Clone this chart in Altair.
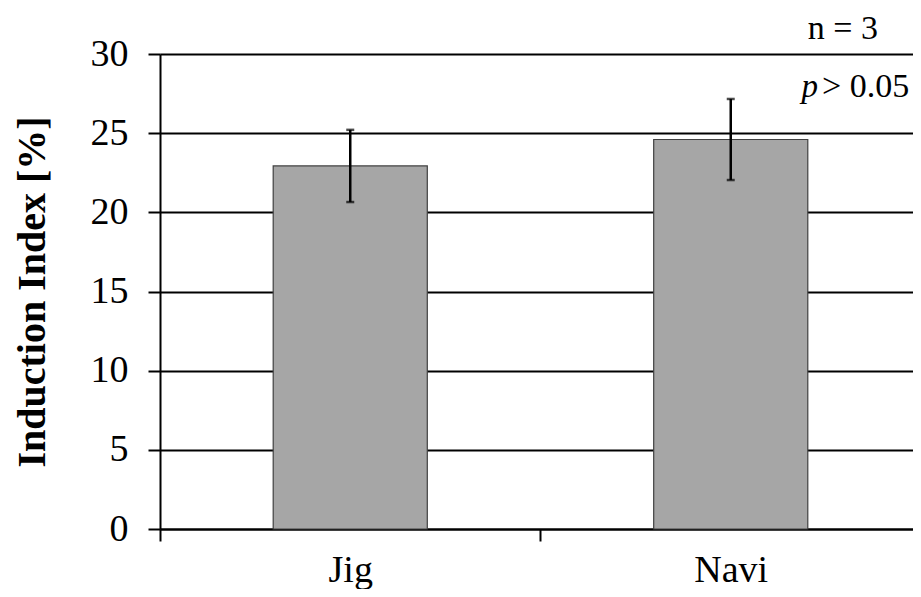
import altair as alt
import pandas as pd

categories = ["Jig", "Navi"]
means = [22.93, 24.6]
errors = [2.28, 2.56]
y_ticks = [0, 5, 10, 15, 20, 25, 30]
n_label = "n = 3"
p_italic = "p"
p_rest = "> 0.05"

FONT = "Liberation Serif"
BAR_HALF = 0.2025
X_END = 1.979  # the reference's plot area is cut off at the right edge

idx = list(range(len(categories)))
df = pd.DataFrame({
    "cat": categories,
    "mean": means,
    "err": errors,
    "center": [i + 0.5 for i in idx],
})
df["x0"] = df["center"] - BAR_HALF
df["x1"] = df["center"] + BAR_HALF
df["lo"] = df["mean"] - df["err"]
df["hi"] = df["mean"] + df["err"]

label_expr = " : ".join(
    [f"datum.value == {i + 0.5} ? '{c}'" for i, c in zip(idx, categories)]
) + " : ''"
x_vals = sorted(set([float(i) for i in range(len(categories))] + [i + 0.5 for i in idx]))

xscale = alt.Scale(domain=[0, X_END], nice=False, zero=False)
yscale = alt.Scale(domain=[0, 30], nice=False)

x_axis = alt.Axis(
    values=x_vals,
    labelExpr=label_expr,
    title=None,
    grid=False,
    tickSize=12,
    tickWidth=2,
    tickColor={"condition": {"test": "datum.value % 1 == 0", "value": "black"}, "value": "transparent"},
    domainColor="black",
    domainWidth=2,
    labelFont=FONT,
    labelFontSize=38,
    labelColor="black",
    labelPadding=10,
    labelFlush=False,
)
y_axis = alt.Axis(
    values=y_ticks,
    title="Induction Index [%]",
    titleFont=FONT,
    titleFontSize=40,
    titleFontWeight="bold",
    titleColor="black",
    titlePadding=38,
    grid=True,
    gridColor="black",
    gridWidth=1.8,
    gridOpacity=1,
    tickSize=12,
    tickWidth=2,
    tickColor="black",
    domainColor="black",
    domainWidth=2,
    labelFont=FONT,
    labelFontSize=38,
    labelColor="black",
    labelPadding=20,
)

base = alt.Chart(df)

bars = base.mark_bar(fill="#a6a6a6", stroke="#404040", strokeWidth=1.2).encode(
    x=alt.X("x0:Q", scale=xscale, axis=x_axis),
    x2="x1:Q",
    y=alt.Y("mean:Q", scale=yscale, axis=y_axis),
    y2=alt.datum(0),
)

err_rule = base.mark_rule(color="black", strokeWidth=2.5).encode(
    x=alt.X("center:Q", scale=xscale),
    y=alt.Y("lo:Q", scale=yscale),
    y2="hi:Q",
)
cap_lo = base.mark_tick(color="black", thickness=2.5, size=8, orient="horizontal").encode(
    x=alt.X("center:Q", scale=xscale),
    y=alt.Y("lo:Q", scale=yscale),
)
cap_hi = base.mark_tick(color="black", thickness=2.5, size=8, orient="horizontal").encode(
    x=alt.X("center:Q", scale=xscale),
    y=alt.Y("hi:Q", scale=yscale),
)

ann = pd.DataFrame({
    "x": [1.887, 1.729, 1.740],
    "y": [30.95, 27.28, 27.28],
    "t": [n_label, p_italic, p_rest],
})

n_text = alt.Chart(ann.iloc[[0]]).mark_text(
    font=FONT, fontSize=34, align="right", baseline="alphabetic", color="black"
).encode(x=alt.X("x:Q", scale=xscale), y=alt.Y("y:Q", scale=yscale), text="t:N")
p_text = alt.Chart(ann.iloc[[1]]).mark_text(
    font=FONT, fontSize=33, fontStyle="italic", align="right", baseline="alphabetic", color="black"
).encode(x=alt.X("x:Q", scale=xscale), y=alt.Y("y:Q", scale=yscale), text="t:N")
rest_text = alt.Chart(ann.iloc[[2]]).mark_text(
    font=FONT, fontSize=34, align="left", baseline="alphabetic", color="black"
).encode(x=alt.X("x:Q", scale=xscale), y=alt.Y("y:Q", scale=yscale), text="t:N")

chart = (
    alt.layer(bars, err_rule, cap_lo, cap_hi, n_text, p_text, rest_text)
    .properties(
        width=753,
        height=475,
        autosize=alt.AutoSizeParams(type="none"),
        padding={"left": 152, "top": 46, "right": 0, "bottom": 60},
        background="white",
    )
    .configure_view(stroke=None)
)

chart.save("out.html", embed_options={"renderer": "svg", "actions": False})
